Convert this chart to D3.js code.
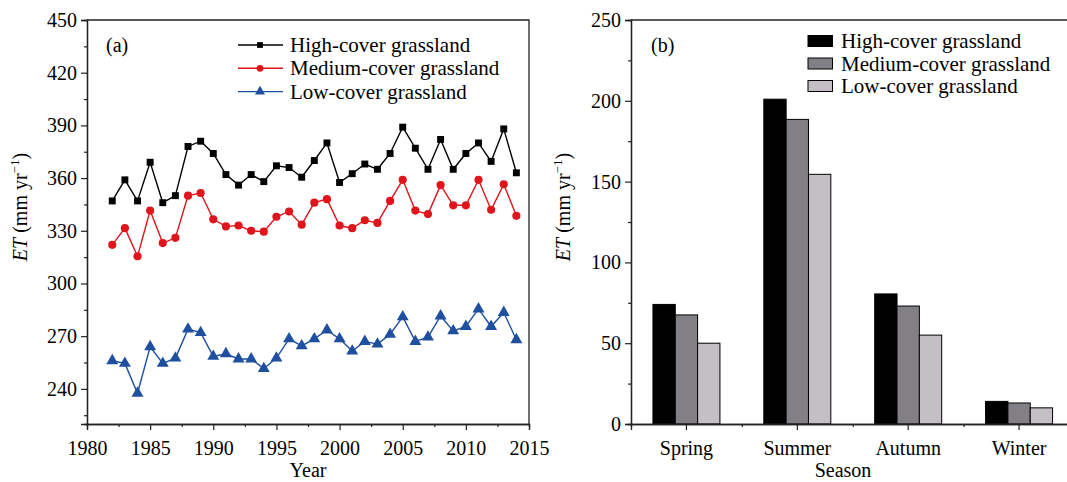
<!DOCTYPE html>
<html>
<head>
<meta charset="utf-8">
<script src="https://cdn.jsdelivr.net/npm/d3@7"></script>
<style>
  body { margin: 0; background: #fff; }
  svg { display: block; font-family: "Liberation Serif", "Times New Roman", serif; }
</style>
</head>
<body>
<div id="chart"></div>
<script>
// ---- data ----
var years = d3.range(1982, 2015);
var highCover = [347, 359, 347, 369, 346, 350, 378, 381, 374, 362, 356, 362, 358, 367, 366, 360.5,
  370, 380, 357.5, 362.5, 368, 365, 374, 389, 377, 365, 382, 365, 374, 380, 369.5, 388, 363];
var mediumCover = [322, 331.5, 315.5, 341.5, 323, 326, 350, 351.5, 336.5, 332.5, 333, 330, 329.5, 338, 341, 333.5,
  346, 348, 333, 331.5, 336, 334.5, 347, 359, 341.5, 339.5, 356, 344.5, 344.5, 359, 342, 356.5, 338.5];
var lowCover = [256, 254.5, 237.5, 264, 254.5, 257.5, 274, 272, 258.5, 260, 257, 257, 251.5, 257.5, 268.5, 264.5,
  268.5, 273.5, 268.5, 261.5, 267, 265.5, 271, 281, 267, 269.5, 281.5, 273, 275.5, 285.5, 275.5, 283.5, 268];

var seriesNames = ["High-cover grassland", "Medium-cover grassland", "Low-cover grassland"];
var seasons = ["Spring", "Summer", "Autumn", "Winter"];
var seasonHigh = [74, 201, 80.5, 14];
var seasonMedium = [67.5, 188.5, 73, 13];
var seasonLow = [50, 154.5, 55, 10];

var yTicksA = d3.range(240, 451, 30);
var xTicksA = d3.range(1980, 2016, 5);
var yTicksB = d3.range(0, 251, 50);

// ---- styles ----
var lineColors = ["#000000", "#e0141b", "#1f4f9f"];
var barColors = ["#000000", "#828085", "#c4bfc4"];
var axisColor = "#222";
var fontSize = 20;

var W = 1067, H = 482;
var svg = d3.select("#chart").append("svg")
  .attr("width", W)
  .attr("height", H);

// y-axis title with italic ET and superscript
function yTitle(g, x, y) {
  var t = g.append("text")
    .attr("transform", "translate(" + x + "," + y + ") rotate(-90)")
    .attr("text-anchor", "middle")
    .attr("font-size", fontSize);
  t.append("tspan").attr("font-style", "italic").text("ET");
  t.append("tspan").text(" (mm yr");
  t.append("tspan").attr("font-size", 13).attr("dy", -8).text("\u22121");
  t.append("tspan").attr("dy", 8).text(")");
}

function styleAxis(sel) {
  sel.select(".domain").attr("stroke", axisColor).attr("stroke-width", 1.3);
  sel.selectAll(".tick line").attr("stroke", axisColor).attr("stroke-width", 1.2);
  sel.selectAll(".tick text").attr("font-size", fontSize).attr("fill", "#000")
    .attr("font-family", "Liberation Serif, serif");
}

// ================= panel (a) =================
var a = { left: 87, right: 529, top: 20, bottom: 424 };

var xA = d3.scaleLinear().domain([1980, 2015]).range([a.left, a.right]);
var yA = d3.scaleLinear().domain([220, 450]).range([a.bottom, a.top]);

var gA = svg.append("g");

// frame top & right
gA.append("path")
  .attr("d", "M" + a.left + "," + a.top + "H" + a.right + "V" + a.bottom)
  .attr("fill", "none").attr("stroke", axisColor).attr("stroke-width", 1.3);

// minor ticks
gA.append("g")
  .attr("transform", "translate(0," + a.bottom + ")")
  .call(d3.axisBottom(xA).tickValues(d3.range(1982.5, 2015, 5)).tickSize(3).tickFormat(""))
  .call(styleAxis);
gA.append("g")
  .attr("transform", "translate(" + a.left + ",0)")
  .call(d3.axisLeft(yA).tickValues(d3.range(225, 450, 30)).tickSize(3).tickFormat(""))
  .call(styleAxis);

gA.append("g")
  .attr("transform", "translate(0," + a.bottom + ")")
  .call(d3.axisBottom(xA).tickValues(xTicksA).tickSize(6).tickPadding(11).tickFormat(d3.format("d")))
  .call(styleAxis);
gA.append("g")
  .attr("transform", "translate(" + a.left + ",0)")
  .call(d3.axisLeft(yA).tickValues(yTicksA).tickSize(6).tickPadding(4))
  .call(styleAxis);

gA.append("text")
  .attr("x", (a.left + a.right) / 2).attr("y", 477)
  .attr("text-anchor", "middle").attr("font-size", fontSize)
  .text("Year");
yTitle(gA, 27, 207);

gA.append("text").attr("x", 106).attr("y", 52).attr("font-size", fontSize).text("(a)");

var lineSeries = [highCover, mediumCover, lowCover];
var line = d3.line()
  .x(function (d, i) { return xA(years[i]); })
  .y(function (d) { return yA(d); });

var symbols = [d3.symbolSquare, d3.symbolCircle, d3.symbolTriangle];
var symbolSizes = [48, 52, 62];

lineSeries.forEach(function (vals, k) {
  gA.append("path")
    .attr("d", line(vals))
    .attr("fill", "none")
    .attr("stroke", lineColors[k])
    .attr("stroke-width", 1.4);
  gA.selectAll(".m" + k)
    .data(vals)
    .enter()
    .append("path")
    .attr("class", "m" + k)
    .attr("transform", function (d, i) { return "translate(" + xA(years[i]) + "," + yA(d) + ")"; })
    .attr("d", d3.symbol().type(symbols[k]).size(symbolSizes[k]))
    .attr("fill", lineColors[k]);
});

// legend (a)
var legA = gA.append("g");
seriesNames.forEach(function (name, k) {
  var yy = 45 + k * 23.3;
  legA.append("line")
    .attr("x1", 238).attr("x2", 283).attr("y1", yy).attr("y2", yy)
    .attr("stroke", lineColors[k]).attr("stroke-width", 1.4);
  legA.append("path")
    .attr("transform", "translate(260," + yy + ")")
    .attr("d", d3.symbol().type(symbols[k]).size(symbolSizes[k] * 0.7))
    .attr("fill", lineColors[k]);
  legA.append("text")
    .attr("x", 290).attr("y", yy + 7)
    .attr("font-size", 21)
    .text(name);
});

// ================= panel (b) =================
var b = { left: 631, right: 1074.5, top: 20, bottom: 424 };

var x0 = d3.scaleBand().domain(seasons).range([b.left, b.right]).padding(0);
var x1 = d3.scaleBand().domain(seriesNames).range([-33.5, 33.5]).padding(0);
var yB = d3.scaleLinear().domain([0, 250]).range([b.bottom, b.top]);

var gB = svg.append("g");

gB.append("line")
  .attr("x1", b.left).attr("x2", b.right).attr("y1", b.top).attr("y2", b.top)
  .attr("stroke", axisColor).attr("stroke-width", 1.3);

var barSeries = [seasonHigh, seasonMedium, seasonLow];
var barRows = seasons.map(function (s, i) {
  return seriesNames.map(function (n, k) { return { season: s, name: n, k: k, value: barSeries[k][i] }; });
});

gB.selectAll(".grp")
  .data(barRows)
  .enter()
  .append("g")
  .attr("class", "grp")
  .attr("transform", function (d) { return "translate(" + (x0(d[0].season) + x0.bandwidth() / 2) + ",0)"; })
  .selectAll("rect")
  .data(function (d) { return d; })
  .enter()
  .append("rect")
  .attr("x", function (d) { return x1(d.name); })
  .attr("width", x1.bandwidth())
  .attr("y", function (d) { return yB(d.value); })
  .attr("height", function (d) { return yB(0) - yB(d.value); })
  .attr("fill", function (d) { return barColors[d.k]; })
  .attr("stroke", "#000")
  .attr("stroke-width", 1);

// x ticks: centres (major) and band edges (minor)
var xB = d3.scaleLinear().domain([0, 4]).range([b.left, b.right]);
gB.append("g")
  .attr("transform", "translate(0," + b.bottom + ")")
  .call(d3.axisBottom(xB).tickValues([1, 2, 3]).tickSize(3).tickFormat(""))
  .call(styleAxis);
gB.append("g")
  .attr("transform", "translate(0," + b.bottom + ")")
  .call(d3.axisBottom(x0).tickSize(6).tickPadding(11))
  .call(styleAxis);

gB.append("g")
  .attr("transform", "translate(" + b.left + ",0)")
  .call(d3.axisLeft(yB).tickValues(d3.range(25, 250, 50)).tickSize(3).tickFormat(""))
  .call(styleAxis);
gB.append("g")
  .attr("transform", "translate(" + b.left + ",0)")
  .call(d3.axisLeft(yB).tickValues(yTicksB).tickSize(6).tickPadding(4))
  .call(styleAxis);

gB.append("text")
  .attr("x", 843).attr("y", 477)
  .attr("text-anchor", "middle").attr("font-size", fontSize)
  .text("Season");
yTitle(gB, 570, 207);

gB.append("text").attr("x", 651).attr("y", 52).attr("font-size", fontSize).text("(b)");

// legend (b)
var legB = gB.append("g");
seriesNames.forEach(function (name, k) {
  var yy = 41 + k * 22.5;
  legB.append("rect")
    .attr("x", 808).attr("y", yy - 5.5).attr("width", 24.5).attr("height", 11)
    .attr("fill", barColors[k]).attr("stroke", "#000").attr("stroke-width", 1);
  legB.append("text")
    .attr("x", 841).attr("y", yy + 7)
    .attr("font-size", 21)
    .text(name);
});
</script>
</body>
</html>
